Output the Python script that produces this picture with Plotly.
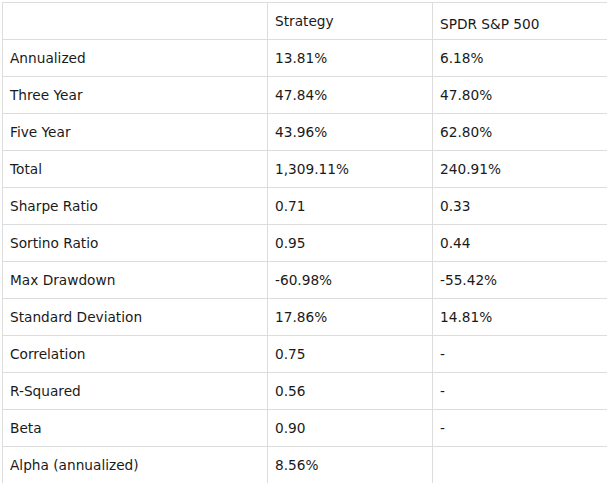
import plotly.graph_objects as go

# table contents
metrics = ["Annualized", "Three Year", "Five Year", "Total", "Sharpe Ratio",
           "Sortino Ratio", "Max Drawdown", "Standard Deviation", "Correlation",
           "R-Squared", "Beta", "Alpha (annualized)"]
strategy = ["13.81%", "47.84%", "43.96%", "1,309.11%", "0.71", "0.95",
            "-60.98%", "17.86%", "0.75", "0.56", "0.90", "8.56%"]
spdr = ["6.18%", "47.80%", "62.80%", "240.91%", "0.33", "0.44",
        "-55.42%", "14.81%", "-", "-", "-", ""]
headers = ["", "Strategy", "SPDR S&P 500"]

W, H = 607, 495
font = dict(family="Verdana, DejaVu Sans, sans-serif", size=13.7, color="#1a1a1a")
line = dict(color="#dddddd", width=1)
clear = dict(color="rgba(0,0,0,0)", width=1)
xdom = [2 / W, 1]


def ydom(top, height):
    return [1 - (top + height) / H, 1 - top / H]


# grid: lines and fills only
grid = go.Table(
    domain=dict(x=xdom, y=ydom(2, 482)),
    columnwidth=[265, 165, 175],
    header=dict(values=["", "", ""], height=37, fill_color="white", line=line),
    cells=dict(values=[[""] * len(metrics)] * 3, height=37,
               fill_color="white", line=line),
)

# text layer, nudged down so labels sit in the middle of the rows
text = go.Table(
    domain=dict(x=xdom, y=ydom(7.5, 482)),
    columnwidth=[265, 165, 175],
    header=dict(values=headers, align="left", height=37, font=font,
                fill_color="rgba(0,0,0,0)", line=clear),
    cells=dict(values=[metrics, strategy, spdr], align="left", height=37,
               font=font, fill_color="rgba(0,0,0,0)", line=clear),
)

fig = go.Figure([grid, text])
fig.update_layout(width=W, height=H, margin=dict(l=0, r=0, t=0, b=0),
                  paper_bgcolor="white")

fig.write_html("out.html", config={"displayModeBar": False},
               post_script="document.body.style.margin='0';"
               "document.body.style.overflow='hidden';")
